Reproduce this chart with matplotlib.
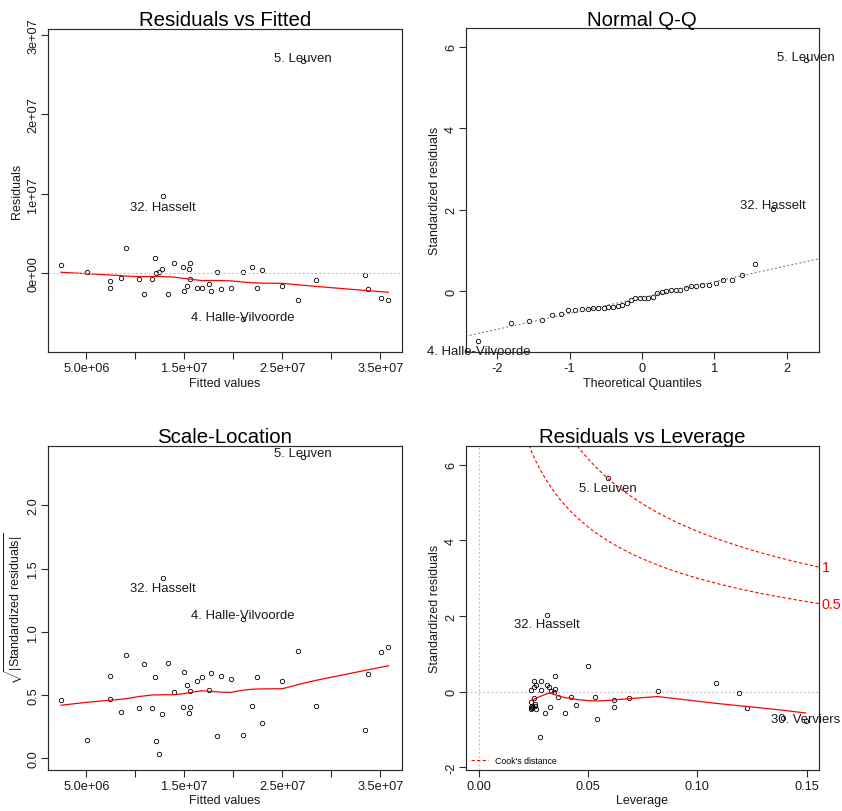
import numpy as np
import matplotlib
matplotlib.use('Agg')
import matplotlib.pyplot as plt
from matplotlib.transforms import blended_transform_factory
from matplotlib.lines import Line2D
from statistics import NormalDist

plt.rcParams['font.family'] = ['Liberation Sans', 'DejaVu Sans']
plt.rcParams['mathtext.fontset'] = 'custom'
plt.rcParams['mathtext.rm'] = 'Liberation Sans'
plt.rcParams['mathtext.it'] = 'Liberation Sans:italic'
plt.rcParams['axes.unicode_minus'] = False
plt.rcParams['lines.scale_dashes'] = False

# ---------------- data (one entry per observation) ----------------
fitted = np.array([2.42, 5.04, 7.38, 7.38, 8.51, 9.02, 10.34, 10.85, 11.74, 11.98,
                   12.08, 12.42, 12.69, 12.86, 13.30, 13.92, 14.83, 14.94, 15.28, 15.48,
                   15.58, 15.58, 16.26, 16.77, 17.49, 17.72, 18.34, 18.71, 19.73, 20.96,
                   20.96, 21.91, 22.38, 22.90, 25.00, 26.57, 27.14, 28.47, 33.44, 33.71,
                   35.04, 35.82]) * 1e6
residuals = np.array([1.01, 0.08, -1.05, -1.93, -0.63, 3.15, -0.76, -2.69, -0.76, 1.93,
                      -0.04, 0.08, 0.55, 9.75, -2.69, 1.30, 0.80, -2.23, -1.60, 0.55,
                      1.30, -0.76, -1.85, -1.93, -1.35, -2.23, 0.13, -2.02, -1.85, -5.85,
                      0.17, 0.80, -1.93, 0.34, -1.68, -3.40, 26.70, -0.84, -0.21, -2.02,
                      -3.11, -3.40]) * 1e6
std_resid = np.array([0.213, 0.021, -0.221, -0.417, -0.135, 0.664, -0.157, -0.558, -0.157, 0.411,
                      -0.019, 0.001, 0.121, 2.031, -0.570, 0.276, 0.163, -0.464, -0.334, 0.130,
                      0.281, -0.163, -0.375, -0.411, -0.289, -0.453, 0.030, -0.425, -0.394, -1.210,
                      0.034, 0.167, -0.411, 0.075, -0.368, -0.723, 5.664, -0.167, -0.050, -0.442,
                      -0.699, -0.776])
leverage = np.array([0.1084, 0.0819, 0.0618, 0.0618, 0.0532, 0.0502, 0.0422, 0.0396, 0.0361, 0.0350,
                     0.0346, 0.0333, 0.0323, 0.0313, 0.0303, 0.0285, 0.0264, 0.0262, 0.0256, 0.0253,
                     0.0251, 0.0251, 0.0243, 0.0240, 0.0238, 0.0238, 0.0241, 0.0244, 0.0257, 0.0279,
                     0.0283, 0.0312, 0.0328, 0.0348, 0.0447, 0.0540, 0.0593, 0.0686, 0.1189, 0.1229,
                     0.1390, 0.1495])
id_names = {36: "5. Leuven", 13: "32. Hasselt", 29: "4. Halle-Vilvoorde", 41: "30. Verviers"}
cook_levels = [0.5, 1.0]
n_coef = 2

fit_ticks = [5e6, 1e7, 1.5e7, 2e7, 2.5e7, 3e7, 3.5e7]
fit_ticklabels = ['5.0e+06', '', '1.5e+07', '', '2.5e+07', '', '3.5e+07']
res_ticks = [0, 1e7, 2e7, 3e7]
res_ticklabels = ['0e+00', '1e+07', '2e+07', '3e+07']
qq_xticks = [-2, -1, 0, 1, 2]
qq_yticks = [0, 2, 4, 6]
sl_yticks = [0.0, 0.5, 1.0, 1.5, 2.0]
sl_yticklabels = ['0.0', '0.5', '1.0', '1.5', '2.0']
lev_xticks = [0.0, 0.05, 0.10, 0.15]
lev_xticklabels = ['0.00', '0.05', '0.10', '0.15']
lev_yticks = [-2, 0, 2, 4, 6]


# ---------------- R-style lowess ----------------
def lowess(x, y, f=2/3, iters=3):
    order = np.argsort(x, kind='stable')
    x = np.asarray(x, float)[order]
    y = np.asarray(y, float)[order]
    n = len(x)
    ns = max(2, min(n, int(f * n + 1e-7)))
    rw = np.ones(n)
    ys = np.zeros(n)
    xr = x[-1] - x[0]
    for it in range(iters + 1):
        nleft, nright = 0, ns - 1
        for i in range(n):
            xs = x[i]
            while nright < n - 1 and xs - x[nleft] > x[nright + 1] - xs:
                nleft += 1
                nright += 1
            h = max(xs - x[nleft], x[nright] - xs)
            r = np.abs(x - xs)
            w = np.zeros(n)
            if h > 0:
                m = r <= 0.999 * h
                w[m] = (1 - (r[m] / h) ** 3) ** 3
                w[r <= 0.001 * h] = 1.0
            else:
                w[r == 0] = 1.0
            if it > 0:
                w = w * rw
            a = w.sum()
            if a <= 0:
                ys[i] = y[i]
                continue
            w = w / a
            if h > 0:
                a = (w * x).sum()
                b = xs - a
                c = (w * (x - a) ** 2).sum()
                if np.sqrt(c) > 0.001 * xr:
                    b = b / c
                    w = w * (b * (x - a) + 1)
            ys[i] = (w * y).sum()
        if it == iters:
            break
        res = np.abs(y - ys)
        cmad = 6 * np.median(res)
        if cmad < 1e-7 * np.mean(np.abs(y)):
            break
        rw = np.where(res <= 0.001 * cmad, 1.0,
                      np.where(res <= 0.999 * cmad, (1 - (res / cmad) ** 2) ** 2, 0.0))
    return x, ys


# ---------------- figure ----------------
W, H = 842, 812
fig = plt.figure(figsize=(W / 100, H / 100), dpi=100)


def add_ax(l, t, r, b):
    return fig.add_axes([l / W, 1 - b / H, (r - l) / W, (b - t) / H])


ax1 = add_ax(47.7, 30, 401.7, 352.7)
ax2 = add_ax(465.7, 29.3, 819, 352.7)
ax3 = add_ax(47.7, 447, 401.7, 770.7)
ax4 = add_ax(465.7, 447, 819, 770.7)

PT = 0.72  # points per pixel
spine_col = '#2b2b2b'
dot = (0, (1.4, 1.6))
pt_kw = dict(ls='none', marker='o', mfc='none', mec='black', ms=3.2, mew=0.6)
txt_col = '#1a1a1a'


def style(ax, title, xlabel, ylabel, tb=4, ylab_px=32):
    for s in ax.spines.values():
        s.set_color(spine_col)
        s.set_linewidth(0.85)
    ax.tick_params(direction='out', length=4.8, width=0.8, color=spine_col,
                   labelsize=9.2, labelcolor=txt_col)
    ax.tick_params(axis='x', pad=2.6)
    ax.tick_params(axis='y', labelrotation=90, pad=1.4)
    for lab in ax.get_yticklabels():
        lab.set_va('center')
    h = ax.get_position().height * H
    w = ax.get_position().width * W
    ax.text(0.5, 1 + tb / h, title, transform=ax.transAxes, ha='center',
            va='baseline', fontsize=14.7, color='black')
    ax.set_xlabel(xlabel, fontsize=9, color=txt_col, va='center')
    ax.set_ylabel(ylabel, fontsize=9, color=txt_col, va='center')
    ax.xaxis.set_label_coords(0.5, -31 / h)
    ax.yaxis.set_label_coords(-ylab_px / w, 0.5)


def label_points(ax, xs, ys, offsets):
    for idx, dy in offsets.items():
        ax.annotate(id_names[idx], (xs[idx], ys[idx]), xytext=(0, dy * PT),
                    textcoords='offset points', ha='center', va='baseline',
                    fontsize=9.45, color=txt_col, annotation_clip=False)


# ---- Residuals vs Fitted ----
ax1.plot(fitted, residuals, **pt_kw)
sx, sy = lowess(fitted, residuals)
ax1.plot(sx, sy, color='red', lw=0.9)
ax1.axhline(0, color='#BEBEBE', lw=0.8, ls=dot)
ax1.set_xlim(1.06e6, 3.718e7)
ax1.set_ylim(-9.92e6, 3.077e7)
ax1.set_xticks(fit_ticks)
ax1.set_xticklabels(fit_ticklabels)
ax1.set_yticks(res_ticks)
ax1.set_yticklabels(res_ticklabels)
style(ax1, 'Residuals vs Fitted', 'Fitted values', 'Residuals', ylab_px=30.5)
label_points(ax1, fitted, residuals, {36: 0.6, 13: -14, 29: -0.3})

# ---- Normal Q-Q ----
n = len(std_resid)
nd = NormalDist()
theo = np.array([nd.inv_cdf((i + 0.5) / n) for i in range(n)])
tq = np.empty(n)
tq[np.argsort(std_resid, kind='stable')] = theo
ax2.plot(tq, std_resid, **pt_kw)
q1, q3 = np.percentile(std_resid, [25, 75])
z1, z3 = nd.inv_cdf(0.25), nd.inv_cdf(0.75)
slope = (q3 - q1) / (z3 - z1)
ax2.axline((0, q1 - slope * z1), slope=slope, color='#7F7F7F', lw=0.8, ls=dot)
ax2.set_xlim(-2.435, 2.445)
ax2.set_ylim(-1.48, 6.45)
ax2.set_xticks(qq_xticks)
ax2.set_yticks(qq_yticks)
style(ax2, 'Normal Q-Q', 'Theoretical Quantiles', 'Standardized residuals', tb=3.3, ylab_px=31)
label_points(ax2, tq, std_resid, {36: 0.6, 13: 1, 29: -13.7})

# ---- Scale-Location ----
sl = np.sqrt(np.abs(std_resid))
ax3.plot(fitted, sl, **pt_kw)
sx, sy = lowess(fitted, sl)
ax3.plot(sx, sy, color='red', lw=0.9)
ax3.set_xlim(1.06e6, 3.718e7)
ax3.set_ylim(-0.092, 2.47)
ax3.set_xticks(fit_ticks)
ax3.set_xticklabels(fit_ticklabels)
ax3.set_yticks(sl_yticks)
ax3.set_yticklabels(sl_yticklabels)
style(ax3, 'Scale-Location', 'Fitted values',
      r'$\sqrt{|\mathrm{Standardized\ residuals}|}$', tb=3.7, ylab_px=34)
ax3.xaxis.set_label_coords(0.5, -30 / 323.7)
label_points(ax3, fitted, sl, {36: 1, 13: -13, 29: 1.3})

# ---- Residuals vs Leverage ----
xlim4 = (-0.0059, 0.1556)
ax4.set_xlim(*xlim4)
ax4.set_ylim(-2.07, 6.50)
ax4.axhline(0, color='#BEBEBE', lw=0.8, ls=dot)
ax4.axvline(0, color='#BEBEBE', lw=0.8, ls=dot)
ax4.plot(leverage, std_resid, **pt_kw)
sx, sy = lowess(leverage, std_resid)
ax4.plot(sx, sy, color='red', lw=0.9)
hh = np.linspace(min(leverage.min(), leverage.max() / 100), xlim4[1], 101)
cook_dash = (0, (2.4, 1.6))
for lev in cook_levels:
    ch = np.sqrt(lev * n_coef * (1 - hh) / hh)
    ax4.plot(hh, ch, color='red', lw=0.8, ls=cook_dash)
    ax4.plot(hh, -ch, color='red', lw=0.8, ls=cook_dash)
tr = blended_transform_factory(ax4.transAxes, ax4.transData)
for lev in cook_levels:
    yv = np.sqrt(lev * n_coef * (1 - xlim4[1]) / xlim4[1])
    ax4.annotate(f"{lev:g}", (1.0, yv), xycoords=tr, xytext=(2.5 * PT, 0),
                 textcoords='offset points', ha='left', va='center',
                 fontsize=10.3, color='red', annotation_clip=False)
ax4.set_xticks(lev_xticks)
ax4.set_xticklabels(lev_xticklabels)
ax4.set_yticks(lev_yticks)
style(ax4, 'Residuals vs Leverage', 'Leverage', 'Standardized residuals', tb=3.7, ylab_px=31)
ax4.xaxis.set_label_coords(0.5, -30 / 323.7)
label_points(ax4, leverage, std_resid, {36: -13.3, 13: -12.7, 41: -1})
handle = Line2D([], [], color='red', lw=0.8, ls=cook_dash)
ax4.legend([handle], ["Cook's distance"], loc='lower left',
           bbox_to_anchor=(5 / 353.3, 5 / 323.7), borderaxespad=0, borderpad=0,
           frameon=False, fontsize=6.3, handlelength=2.0, handletextpad=0.8)

fig.savefig('out.png', dpi=100)
